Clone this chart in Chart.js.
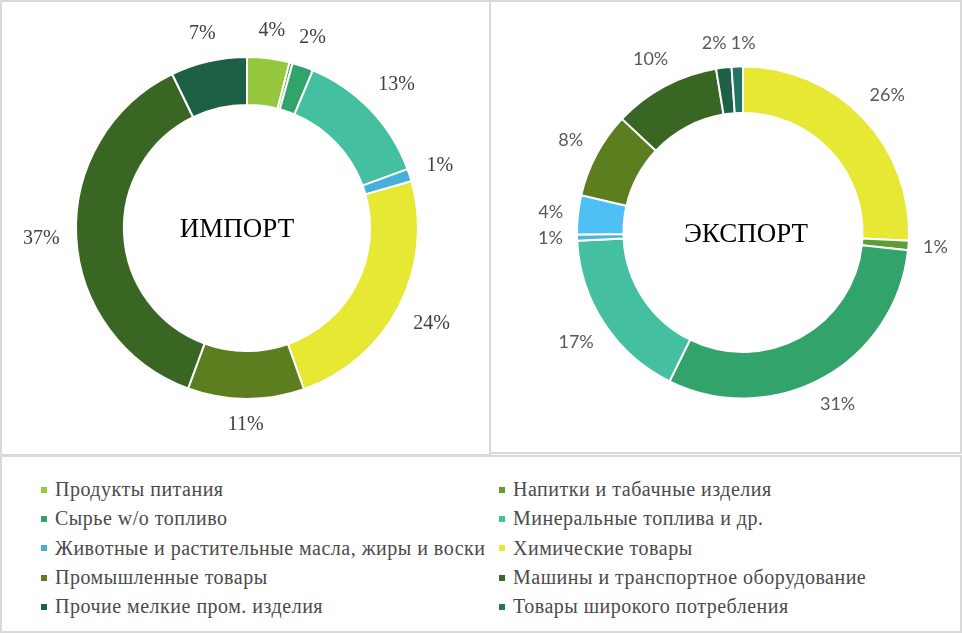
<!DOCTYPE html>
<html>
<head>
<meta charset="utf-8">
<script src="https://cdn.jsdelivr.net/npm/chart.js@4.4.0/dist/chart.umd.min.js"></script>
<style>
    body { margin: 0; background: #fff; width: 962px; height: 633px; position: relative; overflow: hidden; }
    .panel { position: absolute; border: 2px solid #d9d9d9; box-sizing: border-box; }
    #importPanel { left: 0; top: 0; width: 491px; height: 456px; }
    #exportPanel { left: 489px; top: 0; width: 473px; height: 454px; }
    #legendPanel { left: 0; top: 455px; width: 962px; height: 178px; }
    canvas { position: absolute; }
    #importChart { left: 0; top: 0; }
    #exportChart { left: 490px; top: 0; }
    #legend { position: absolute; left: 41px; top: 475px; display: grid;
              grid-template-columns: 458px 440px; grid-auto-rows: 29.3px;
              font-family: "Liberation Serif", serif; font-size: 20px; letter-spacing: 0.5px; color: #4a4a4a; }
    .item { display: flex; align-items: center; white-space: nowrap; }
    .box { width: 6px; height: 6px; margin-right: 8px; flex: none; }
</style>
</head>
<body>
<div class="panel" id="importPanel"></div>
<div class="panel" id="exportPanel"></div>
<div class="panel" id="legendPanel"></div>
<canvas id="importChart" width="490" height="455"></canvas>
<canvas id="exportChart" width="472" height="455"></canvas>
<div id="legend"></div>
<script>
const categories = [
    "Продукты питания",
    "Напитки и табачные изделия",
    "Сырье w/o топливо",
    "Минеральные топлива и др.",
    "Животные и растительные масла, жиры и воски",
    "Химические товары",
    "Промышленные товары",
    "Машины  и транспортное оборудование",
    "Прочие мелкие пром. изделия",
    "Товары широкого потребления"
];

const categoryColors = ['#95c83d', '#5a9f32', '#33a36c', '#44c0a1', '#4aaedb', '#e6e834',
                        '#5c7e1f', '#3a6624', '#1e6046', '#237564'];

// shares in %, same order as categories
const importValues = [4.0, 0.3, 2.0, 13.1, 1.2, 24.0, 11.0, 37.2, 7.2, 0];
const exportValues = [25.8, 0.9, 30.6, 16.9, 0.6, 3.8, 8.4, 10.4, 1.5, 1.1];

// the export chart is coloured per slice differently
const exportColors = ['#e6e834', '#5a9f32', '#33a36c', '#44c0a1', '#4fb6cf', '#4fc0f4',
                      '#5c7e1f', '#3a6624', '#1e6046', '#237564'];

const outsideLabels = {
    id: 'outsideLabels',
    afterDatasetsDraw(chart, args, opts) {
        const ctx = chart.ctx;
        const meta = chart.getDatasetMeta(0);
        const data = chart.data.datasets[0].data;
        const total = data.reduce((a, b) => a + b, 0);
        ctx.save();
        ctx.font = opts.font;
        ctx.fillStyle = opts.color;
        ctx.textAlign = 'center';
        ctx.textBaseline = 'middle';
        var boxes = [];
        meta.data.forEach((arc, i) => {
            if (data[i] < 0.5) return;
            const p = arc.getProps(['x', 'y', 'startAngle', 'endAngle', 'outerRadius'], true);
            const mid = (p.startAngle + p.endAngle) / 2;
            const text = Math.round(data[i] / total * 100) + '%';
            const w = ctx.measureText(text).width;
            // keep the near edge of the text box a fixed gap away from the ring
            const r = p.outerRadius + opts.gap
                + Math.abs(Math.cos(mid)) * w / 2 + Math.abs(Math.sin(mid)) * opts.h / 2;
            boxes.push({ text: text, x: p.x + Math.cos(mid) * r, y: p.y + Math.sin(mid) * r,
                         w: w + 4, h: opts.h });
        });
        // push overlapping labels apart sideways
        for (var k = 0; k < 4; k++) {
            for (var i = 0; i < boxes.length; i++) {
                for (var j = i + 1; j < boxes.length; j++) {
                    var a = boxes[i], b = boxes[j];
                    var ox = (a.w + b.w) / 2 - Math.abs(a.x - b.x);
                    var oy = (a.h + b.h) / 2 - Math.abs(a.y - b.y);
                    if (ox > 0 && oy > 0) {
                        var s = a.x < b.x ? -1 : 1;
                        a.x += s * ox / 2;
                        b.x -= s * ox / 2;
                    }
                }
            }
        }
        boxes.forEach(b => ctx.fillText(b.text, b.x, b.y));
        ctx.restore();
    }
};

const centerText = {
    id: 'centerText',
    afterDraw(chart, args, opts) {
        const arc = chart.getDatasetMeta(0).data[0];
        const ctx = chart.ctx;
        ctx.save();
        ctx.font = opts.font;
        ctx.fillStyle = '#000';
        ctx.textAlign = 'center';
        ctx.textBaseline = 'middle';
        ctx.fillText(opts.text, arc.x + opts.dx, arc.y + opts.dy);
        ctx.restore();
    }
};

function makeDoughnut(canvasId, values, colors, padding, title, labelOpts, textDx) {
    return new Chart(document.getElementById(canvasId), {
        type: 'doughnut',
        data: {
            labels: categories,
            datasets: [{
                data: values,
                backgroundColor: colors,
                borderColor: '#ffffff',
                borderWidth: 2
            }]
        },
        options: {
            responsive: false,
            animation: false,
            devicePixelRatio: 1,
            cutout: '72%',
            layout: { padding: padding },
            plugins: {
                legend: { display: false },
                tooltip: { enabled: false },
                outsideLabels: labelOpts,
                centerText: { text: title, font: '27px "Liberation Serif"', dx: textDx, dy: 2 }
            }
        },
        plugins: [outsideLabels, centerText]
    });
}

makeDoughnut('importChart', importValues, categoryColors,
    { left: 75, top: 56, right: 71, bottom: 55 }, 'ИМПОРТ',
    { font: '20px "Liberation Serif"', color: '#404040', gap: 16, h: 20 }, -10);

makeDoughnut('exportChart', exportValues, exportColors,
    { left: 86, top: 65, right: 52, bottom: 55 }, 'ЭКСПОРТ',
    { font: '18px Lato', color: '#595959', gap: 14, h: 18 }, 3);

const legendEl = document.getElementById('legend');
categories.forEach((name, i) => {
    const item = document.createElement('div');
    item.className = 'item';
    const box = document.createElement('span');
    box.className = 'box';
    box.style.background = categoryColors[i];
    item.appendChild(box);
    item.appendChild(document.createTextNode(name));
    legendEl.appendChild(item);
});
</script>
</body>
</html>
